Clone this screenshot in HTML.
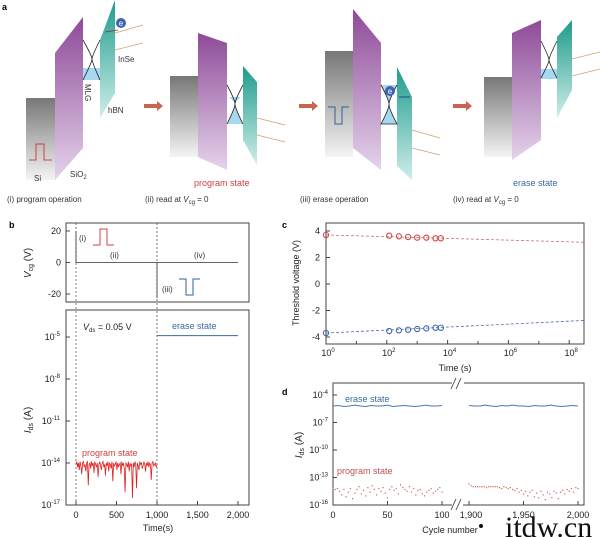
<!DOCTYPE html>
<html><head><meta charset="utf-8"><style>
body{margin:0;background:#fff;font-family:"Liberation Sans",sans-serif}
svg{display:block}
text{font-family:"Liberation Sans",sans-serif}
</style></head><body>
<svg id="s" width="600" height="537" viewBox="0 0 600 537" xmlns="http://www.w3.org/2000/svg">
<defs>
<linearGradient id="gp" x1="0" y1="0" x2="0" y2="1"><stop offset="0" stop-color="#8e4a98"/><stop offset="1" stop-color="#e4d3ea"/></linearGradient>
<linearGradient id="gt" x1="0" y1="0" x2="0" y2="1"><stop offset="0" stop-color="#1f9b8c"/><stop offset="1" stop-color="#cdeee8"/></linearGradient>
<linearGradient id="gg" x1="0" y1="0" x2="0" y2="1"><stop offset="0" stop-color="#777"/><stop offset="1" stop-color="#f4f4f4"/></linearGradient>
</defs>
<text x="2" y="10" font-size="9" font-weight="bold">a</text>
<g id="pa">
<rect x="26" y="98" width="29" height="82" fill="url(#gg)"/>
<polygon points="55,53 83,17 83,148 55,180" fill="url(#gp)"/>
<polygon points="100,40 115,0 115,93 100,118" fill="url(#gt)"/>
<rect x="83" y="68" width="17" height="12" fill="#a8d8f0"/>
<path d="M83,40 Q92,56 92,59 Q92,62 83,80 M100,40 Q92,56 92,59 Q92,62 100,80" stroke="#222" fill="none" stroke-width="0.8"/>
<line x1="115" y1="33" x2="143" y2="25" stroke="#d4a070" stroke-width="0.8"/><line x1="115" y1="50" x2="143" y2="43" stroke="#d4a070" stroke-width="0.8"/>
<circle cx="121" cy="23" r="5" fill="#3f62b0"/><text x="121" y="26" font-size="8" fill="#fff" text-anchor="middle">e</text>
<line x1="118" y1="30" x2="105" y2="32" stroke="#8b3030" stroke-width="0.8"/>
<text x="118" y="62" font-size="8" fill="#333">InSe</text>
<text x="0" y="0" font-size="8" fill="#333" transform="translate(85,84) rotate(90)">MLG</text>
<text x="108" y="113" font-size="8" fill="#333">hBN</text>
<text x="34" y="181" font-size="8" fill="#333">Si</text>
<text x="70" y="177" font-size="8" fill="#333">SiO<tspan font-size="6" dy="2">2</tspan></text>
<path d="M29,160 H36 V144 H44 V160 H52" stroke="#d04040" fill="none" stroke-width="1"/>
<text x="7" y="202" font-size="8" fill="#333">(i) program operation</text>
<polygon points="144,104 157,104 157,101 163,106 157,111 157,108 144,108" fill="#c8644f"/>
<polygon points="299,104 312,104 312,101 318,106 312,111 312,108 299,108" fill="#c8644f"/>
<polygon points="453,104 466,104 466,101 472,106 466,111 466,108 453,108" fill="#c8644f"/>
<rect x="170" y="76" width="28" height="81" fill="url(#gg)"/>
<polygon points="198,33 227,43 227,170 198,157" fill="url(#gp)"/>
<polygon points="243,66 257,82 257,165 243,140" fill="url(#gt)"/>
<path d="M229,97 L241,97 Q235,102 235,104 Q235,108 243,124 L227,124 Q235,108 235,104 Q235,102 229,97Z" fill="#a8d8f0"/>
<path d="M227,85 Q235,100 235,104 Q235,108 227,124 M243,85 Q235,100 235,104 Q235,108 243,124" stroke="#222" fill="none" stroke-width="0.8"/>
<line x1="257" y1="118" x2="285" y2="125" stroke="#d4a070" stroke-width="0.8"/><line x1="257" y1="135" x2="285" y2="142" stroke="#d4a070" stroke-width="0.8"/>
<text x="194" y="186" font-size="9" fill="#d04040">program state</text>
<text x="145" y="202" font-size="8" fill="#333">(ii) read at <tspan font-style="italic">V</tspan><tspan font-size="6" dy="2">cg</tspan><tspan dy="-2"> = 0</tspan></text>
<rect x="325" y="51" width="28" height="106" fill="url(#gg)"/>
<polygon points="353,9 381,43 381,170 353,148" fill="url(#gp)"/>
<polygon points="397,67 412,97 412,180 397,166" fill="url(#gt)"/>
<path d="M381,85 Q389,100 389,104 Q389,109 381,124 L397,124 Q389,109 389,104 Q389,100 397,85" stroke="#222" fill="#a8d8f0" stroke-width="0.8"/>
<circle cx="390" cy="91" r="5" fill="#3f62b0"/><text x="390" y="94" font-size="8" fill="#fff" text-anchor="middle">e</text>
<line x1="399" y1="97" x2="410" y2="97" stroke="#1a4a8a" stroke-width="1"/>
<line x1="412" y1="130" x2="440" y2="138" stroke="#d4a070" stroke-width="0.8"/><line x1="412" y1="148" x2="440" y2="155" stroke="#d4a070" stroke-width="0.8"/>
<path d="M328,107 H335 V124 H342 V107 H349" stroke="#3060a0" fill="none" stroke-width="1"/>
<text x="300" y="202" font-size="8" fill="#333">(iii) erase operation</text>
<rect x="484" y="77" width="28" height="80" fill="url(#gg)"/>
<polygon points="512,33 541,20 541,140 512,160" fill="url(#gp)"/>
<polygon points="557,37 572,20 572,90 557,118" fill="url(#gt)"/>
<rect x="541" y="69" width="16" height="10" fill="#a8d8f0"/>
<path d="M541,41 Q549,57 549,60 Q549,63 541,78 M557,41 Q549,57 549,60 Q549,63 557,78" stroke="#222" fill="none" stroke-width="0.8"/>
<line x1="572" y1="59" x2="600" y2="52" stroke="#d4a070" stroke-width="0.8"/><line x1="572" y1="76" x2="600" y2="69" stroke="#d4a070" stroke-width="0.8"/>
<text x="513" y="186" font-size="9" fill="#3a6aa0">erase state</text>
<text x="453" y="202" font-size="8" fill="#333">(iv) read at <tspan font-style="italic">V</tspan><tspan font-size="6" dy="2">cg</tspan><tspan dy="-2"> = 0</tspan></text>
</g>
<text x="9" y="228" font-size="9" font-weight="bold">b</text>
<text x="282" y="228" font-size="9" font-weight="bold">c</text>
<text x="282" y="395" font-size="9" font-weight="bold">d</text>
<g id="gb"></g>
<g id="gc"></g>
<g id="gd"></g>
<text x="505" y="537" font-size="30" style="font-family:'Liberation Serif',serif" fill="#111">itdw.cn</text>
<circle cx="481" cy="526" r="2" fill="#111"/>
</svg>
<script>
// ---- panel b data ----
const bVcgTicks=[20,0,-20];
const bIdsTicks=[-5,-8,-11,-14,-17];
const bTimeTicks=[0,500,1000,1500,2000];
const bTimeLabels=["0","500","1,000","1,500","2,000"];
const bEraseLevel=-4.9;
const bProgramNoise=[-14.1,-13.9,-14.3,-14.0,-14.5,-13.9,-14.2,-14.8,-14.0,-13.9,-14.3,-14.1,-14.6,-14.0,-13.9,-15.6,-14.1,-14.0,-14.4,-13.9,-14.2,-14.0,-14.7,-13.9,-14.1,-14.3,-14.0,-15.0,-14.1,-13.9,-14.2,-14.5,-14.0,-13.9,-14.3,-14.1,-14.9,-14.0,-14.2,-13.9,-14.6,-14.0,-14.1,-14.4,-13.9,-15.3,-14.0,-14.2,-14.1,-13.9,-14.5,-14.0,-14.3,-14.1,-14.0,-14.8,-13.9,-14.2,-14.0,-14.4,-16.1,-14.0,-14.1,-14.3,-13.9,-14.6,-14.0,-14.2,-14.1,-16.5,-14.0,-14.3,-13.9,-14.1,-15.8,-14.0,-14.2,-14.5,-13.9,-14.1,-14.0,-14.4,-14.2,-13.9,-14.1,-14.6,-14.0,-14.2,-13.9,-14.3,-14.0,-14.1,-15.2,-14.0,-13.9,-14.2,-14.1,-14.0,-14.3,-14.1];
// ---- panel c data ----
const cTimes=[1,120,250,500,1000,2000,4000,6000];
const cProgramVth=[3.7,3.65,3.6,3.55,3.5,3.5,3.45,3.45];
const cEraseVth=[-3.7,-3.55,-3.5,-3.45,-3.4,-3.35,-3.3,-3.3];
const cFitProgram=[3.7,3.15];
const cFitErase=[-3.7,-2.75];
const cXTicks=[0,2,4,6,8];
const cYTicks=[4,2,0,-2,-4];
// ---- panel d data ----
const dYTicks=[-4,-7,-10,-13,-16];
const dXTicks=[0,50,100,1900,1950,2000];
const dXLabels=["0","50","100","1,900","1,950","2,000"];
const dEraseA=[-5.2,-5.15,-5.25,-5.2,-5.1,-5.2,-5.25,-5.15,-5.2,-5.2,-5.1,-5.25,-5.2,-5.15,-5.2,-5.25,-5.2,-5.1,-5.2,-5.2,-5.15];
const dEraseB=[-5.15,-5.2,-5.2,-5.1,-5.2,-5.25,-5.15,-5.2,-5.1,-5.2,-5.2,-5.25,-5.15,-5.2,-5.2,-5.1,-5.2,-5.25,-5.2,-5.15,-5.2];
const dProgA=[-14.2,-14.3,-14.2,-14.5,-14.9,-14.3,-15.1,-14.6,-14.2,-15.3,-14.7,-14.3,-14.0,-14.8,-14.4,-15.0,-14.1,-14.6,-13.9,-14.3,-14.9,-14.2,-14.5,-14.1,-14.7,-15.2,-14.3,-14.0,-14.4,-14.2,-14.8,-13.8,-14.1,-14.3,-14.5,-14.0,-14.6,-14.2,-14.9,-14.4,-14.3,-14.8,-15.0,-14.6,-14.4,-14.2,-14.7,-14.5,-14.3,-14.1,-14.6];
const dProgB=[-13.7,-13.9,-14.0,-14.0,-14.0,-14.0,-14.0,-14.0,-14.1,-14.0,-14.0,-14.0,-14.0,-14.0,-14.1,-14.2,-14.0,-14.1,-14.2,-14.1,-14.3,-14.4,-14.2,-14.6,-14.4,-14.8,-14.5,-15.0,-14.6,-14.4,-15.1,-14.7,-15.2,-14.5,-14.9,-15.4,-14.6,-14.8,-15.2,-14.5,-14.7,-15.3,-14.6,-14.4,-14.8,-14.3,-14.5,-14.2,-14.6,-14.1,-14.2];

const NS="http://www.w3.org/2000/svg";
function mk(p,tag,a,txt){const e=document.createElementNS(NS,tag);for(const k in a)e.setAttribute(k,a[k]);if(txt!==undefined)e.textContent=txt;p.appendChild(e);return e;}
function sup(p,x,y,base,exp,anchor,fs){const t=mk(p,'text',{x:x,y:y,'font-size':fs||9,'text-anchor':anchor||'end',fill:'#222'});t.textContent=base;mk(t,'tspan',{dy:-4,'font-size':6},exp);return t;}
const C='#444';
const gb=document.getElementById('gb');
const bx=t=>76+t*162/2000, bv=v=>262.5-v*1.575, bi=e=>337+(-5-e)*14;
let r=mk(gb,'rect',{x:66,y:223,width:183,height:79,fill:'none',stroke:C});


r=mk(gb,'rect',{x:66,y:310,width:183,height:195,fill:'none',stroke:C});


bVcgTicks.forEach(v=>{mk(gb,'line',{x1:66,x2:70,y1:bv(v),y2:bv(v),stroke:C});mk(gb,'text',{x:61,y:bv(v)+3,'font-size':9,'text-anchor':'end',fill:'#222'},v);});
bIdsTicks.forEach(e=>{mk(gb,'line',{x1:66,x2:70,y1:bi(e),y2:bi(e),stroke:C});const t=sup(gb,60,bi(e)+3,'10',e);});
bTimeTicks.forEach((t,i)=>{mk(gb,'line',{x1:bx(t),x2:bx(t),y1:505,y2:501,stroke:C});mk(gb,'text',{x:bx(t),y:518,'font-size':9,'text-anchor':'middle',fill:'#222'},bTimeLabels[i]);});
[0,1000].forEach(t=>{mk(gb,'line',{x1:bx(t),x2:bx(t),y1:223,y2:505,stroke:'#444','stroke-dasharray':'2,2','stroke-width':0.7});});
mk(gb,'path',{d:`M${bx(0)},${bv(20)}V${bv(0)}H${bx(1000)}V${bv(-20)+4}M${bx(1000)},${bv(0)}H${bx(2000)}`,stroke:'#333',fill:'none','stroke-width':0.8});
mk(gb,'path',{d:'M93,245H100V229H107V245H114',stroke:'#d04040',fill:'none'});
mk(gb,'path',{d:'M179,279H186V295H193V279H200',stroke:'#3060a0',fill:'none'});
mk(gb,'text',{x:79,y:241,'font-size':8,fill:'#333'},'(i)');
mk(gb,'text',{x:110,y:258,'font-size':8,fill:'#333'},'(ii)');
mk(gb,'text',{x:194,y:258,'font-size':8,fill:'#333'},'(iv)');
mk(gb,'text',{x:162,y:292,'font-size':8,fill:'#333'},'(iii)');
let ttl=mk(gb,'text',{x:83,y:330,'font-size':9,fill:'#222'});mk(ttl,'tspan',{'font-style':'italic'},'V');mk(ttl,'tspan',{'font-size':6,dy:2},'ds');mk(ttl,'tspan',{dy:-2},' = 0.05 V');
mk(gb,'text',{x:172,y:329,'font-size':9,fill:'#3a6aa0'},'erase state');
mk(gb,'text',{x:82,y:456,'font-size':9,fill:'#d04040'},'program state');
const er=mk(gb,'line',{x1:bx(1000),x2:bx(2000),y1:bi(bEraseLevel),y2:bi(bEraseLevel),stroke:'#3a6aa0','stroke-width':1});


const pn=mk(gb,'polyline',{points:bProgramNoise.map((e,i)=>bx(i*1000/(bProgramNoise.length-1))+','+bi(e)).join(' '),fill:'none',stroke:'#e02020','stroke-width':0.8});


ttl=mk(gb,'text',{x:0,y:0,'font-size':10,fill:'#222','text-anchor':'middle',transform:'translate(31,263) rotate(-90)'});mk(ttl,'tspan',{'font-style':'italic'},'V');mk(ttl,'tspan',{'font-size':7,dy:2},'cg');mk(ttl,'tspan',{dy:-2},' (V)');
ttl=mk(gb,'text',{x:0,y:0,'font-size':10,fill:'#222','text-anchor':'middle',transform:'translate(31,420) rotate(-90)'});mk(ttl,'tspan',{'font-style':'italic'},'I');mk(ttl,'tspan',{'font-size':7,dy:2},'ds');mk(ttl,'tspan',{dy:-2},' (A)');
mk(gb,'text',{x:158,y:531,'font-size':9,'text-anchor':'middle',fill:'#222'},'Time(s)');
const gc=document.getElementById('gc');
const cx=t=>326+Math.log10(t)*30.4, cxd=d=>326+d*30.4, cy=v=>284-v*13.25;
r=mk(gc,'rect',{x:326,y:223,width:258,height:121,fill:'none',stroke:C});


cYTicks.forEach(v=>{mk(gc,'line',{x1:326,x2:330,y1:cy(v),y2:cy(v),stroke:C});mk(gc,'text',{x:320,y:cy(v)+3,'font-size':9,'text-anchor':'end',fill:'#222'},v);});
for(let d=0;d<=8;d++)mk(gc,'line',{x1:cxd(d),x2:cxd(d),y1:344,y2:d%2?341:340,stroke:C});
cXTicks.forEach(d=>sup(gc,cxd(d)+2,356,'10',d,'middle'));
mk(gc,'text',{x:455,y:371,'font-size':9,'text-anchor':'middle',fill:'#222'},'Time (s)');
mk(gc,'text',{x:0,y:0,'font-size':9,fill:'#222','text-anchor':'middle',transform:'translate(299,283) rotate(-90)'},'Threshold voltage (V)');
[[cFitProgram,'#c87070'],[cFitErase,'#5070a0']].forEach(([f,col])=>mk(gc,'line',{x1:cxd(0),y1:cy(f[0]),x2:584,y2:cy(f[1]),stroke:col,'stroke-dasharray':'3,2','stroke-width':0.8}));
cTimes.forEach((t,i)=>{
 const a=mk(gc,'circle',{cx:cx(t),cy:cy(cProgramVth[i]),r:2.6,fill:'none',stroke:'#d04848','stroke-width':1.1});
 
 
 const b=mk(gc,'circle',{cx:cx(t),cy:cy(cEraseVth[i]),r:2.6,fill:'none',stroke:'#4068a8','stroke-width':1.1});
 
 
});
const gd=document.getElementById('gd');
const dx=c=>c<=100?333+c*1.09:469+(c-1900)*1.09, dy=e=>395+(-4-e)*9.17;
r=mk(gd,'path',{d:'M452,383H333V505H452M463,505H584V383H463',fill:'none',stroke:C});


mk(gd,'rect',{x:452,y:380,width:12,height:6,fill:'#fff'});
mk(gd,'path',{d:'M451,389L456,378M456,389L461,378M451,510L456,499M456,510L461,499',stroke:'#333','stroke-width':0.8});
dYTicks.forEach(e=>{mk(gd,'line',{x1:333,x2:337,y1:dy(e),y2:dy(e),stroke:C});sup(gd,328,dy(e)+3,'10',e);});
dXTicks.forEach((c,i)=>{mk(gd,'line',{x1:dx(c),x2:dx(c),y1:505,y2:501,stroke:C});mk(gd,'text',{x:dx(c)+(i==3?2:0),y:518,'font-size':9,'text-anchor':'middle',fill:'#222'},dXLabels[i]);});
mk(gd,'text',{x:450,y:533,'font-size':9,'text-anchor':'middle',fill:'#222'},'Cycle number');
ttl=mk(gd,'text',{x:0,y:0,'font-size':10,fill:'#222','text-anchor':'middle',transform:'translate(302,445) rotate(-90)'});mk(ttl,'tspan',{'font-style':'italic'},'I');mk(ttl,'tspan',{'font-size':7,dy:2},'ds');mk(ttl,'tspan',{dy:-2},' (A)');
mk(gd,'text',{x:345,y:402,'font-size':9,fill:'#3a6aa0'},'erase state');
mk(gd,'text',{x:337,y:474,'font-size':9,fill:'#c05050'},'program state');
[[dEraseA,0,100],[dEraseB,1900,2000]].forEach(([arr,c0,c1])=>{
 const l=mk(gd,'polyline',{points:arr.map((e,i)=>dx(c0+i*(c1-c0)/(arr.length-1))+','+dy(e)).join(' '),fill:'none',stroke:'#4a78b0','stroke-width':1});
 
 
});
[[dProgA,0,100],[dProgB,1900,2000]].forEach(([arr,c0,c1])=>{
 arr.forEach((e,i)=>{
  const p=mk(gd,'rect',{x:dx(c0+i*(c1-c0)/(arr.length-1))-0.6,y:dy(e)-0.6,width:1.2,height:1.2,fill:'#d06060'});
  
  
 });
});
</script>
</body></html>
